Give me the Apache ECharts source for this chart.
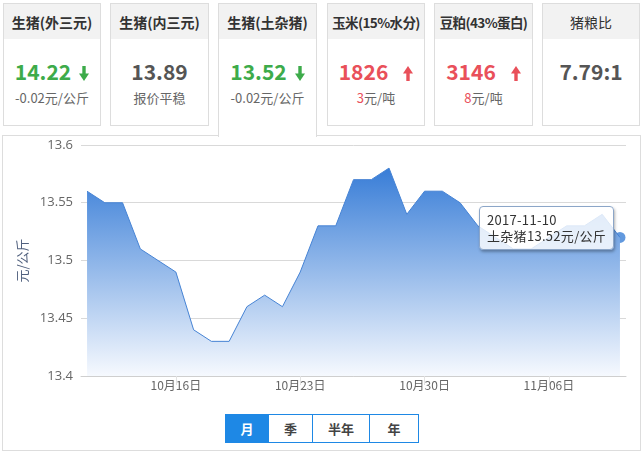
<!DOCTYPE html>
<html><head><meta charset="utf-8">
<script src="https://cdn.jsdelivr.net/npm/echarts@6/dist/echarts.min.js"></script>
<style>
body{margin:0;width:643px;height:454px;position:relative;overflow:hidden;background:#fff;font-family:"Noto Sans CJK SC","Noto Sans",sans-serif;}
.card{position:absolute;top:3px;height:123px;border:1px solid #ddd;box-sizing:border-box;background:#fff;text-align:center;z-index:2;}
.card.active{height:134px;border-bottom:none;}
.card .hd{height:35px;line-height:36px;background:#f2f2f2;font-size:14px;color:#333;font-weight:bold;white-space:nowrap;overflow:visible;}
.card .hd.tight{letter-spacing:-0.6px;font-size:13.5px;}
.card .val{margin-top:19px;font-size:21px;font-weight:bold;line-height:26px;white-space:nowrap;}
.card .sub{margin-top:5px;font-size:13px;line-height:18px;color:#666;white-space:nowrap;}
.green{color:#3dab4a;}
.red{color:#e9505a;}
.gray{color:#555;}
.val svg{vertical-align:-1px;margin-left:8px;}
.panel{position:absolute;left:2px;top:135px;width:639px;height:316px;border:1px solid #ddd;box-sizing:border-box;z-index:1;}
#chart{position:absolute;left:0;top:136px;width:643px;height:270px;z-index:3;}
.btns{position:absolute;left:225px;top:414px;height:29px;display:flex;z-index:3;}
.btn{box-sizing:border-box;height:29px;line-height:27px;border:1px solid #1e88e5;text-align:center;font-size:13px;font-weight:bold;color:#444;margin-left:-1px;background:#fff;}
.btn.on{background:#1e88e5;color:#fff;margin-left:0;}
</style>
</head><body>
<div class="panel"></div>

<div class="card" style="left:3px;width:98px;">
  <div class="hd">生猪(外三元)</div>
  <div class="val green">14.22<svg width="10" height="15" viewBox="0 0 10 15"><rect x="3.3" y="0" width="3.4" height="9" fill="#3dab4a"/><polygon points="0,7.5 10,7.5 5,15" fill="#3dab4a"/></svg></div>
  <div class="sub green">-0.02元/公斤</div>
</div>
<div class="card" style="left:110px;width:99px;">
  <div class="hd">生猪(内三元)</div>
  <div class="val gray">13.89</div>
  <div class="sub">报价平稳</div>
</div>
<div class="card active" style="left:218px;width:99px;">
  <div class="hd">生猪(土杂猪)</div>
  <div class="val green">13.52<svg width="10" height="15" viewBox="0 0 10 15"><rect x="3.3" y="0" width="3.4" height="9" fill="#3dab4a"/><polygon points="0,7.5 10,7.5 5,15" fill="#3dab4a"/></svg></div>
  <div class="sub green">-0.02元/公斤</div>
</div>
<div class="card" style="left:327px;width:98px;">
  <div class="hd tight">玉米(15%水分)</div>
  <div class="val red">1826<svg style="margin-left:15px" width="10" height="15" viewBox="0 0 10 15"><rect x="3.3" y="6" width="3.4" height="9" fill="#e9505a"/><polygon points="0,7.5 10,7.5 5,0" fill="#e9505a"/></svg></div>
  <div class="sub"><span class="red">3</span>元/吨</div>
</div>
<div class="card" style="left:434px;width:99px;">
  <div class="hd tight">豆粕(43%蛋白)</div>
  <div class="val red">3146<svg style="margin-left:15px" width="10" height="15" viewBox="0 0 10 15"><rect x="3.3" y="6" width="3.4" height="9" fill="#e9505a"/><polygon points="0,7.5 10,7.5 5,0" fill="#e9505a"/></svg></div>
  <div class="sub"><span class="red">8</span>元/吨</div>
</div>
<div class="card" style="left:542px;width:98px;">
  <div class="hd" style="font-weight:normal;">猪粮比</div>
  <div class="val gray">7.79:1</div>
  <div class="sub"></div>
</div>

<div id="chart"></div>

<div class="btns">
  <div class="btn on" style="width:44px;">月</div>
  <div class="btn" style="width:45px;">季</div>
  <div class="btn" style="width:58px;">半年</div>
  <div class="btn" style="width:50px;">年</div>
</div>

<script>
const dates = ['2017-10-11','2017-10-12','2017-10-13','2017-10-14','2017-10-15','2017-10-16','2017-10-17',
  '2017-10-18','2017-10-19','2017-10-20','2017-10-21','2017-10-22','2017-10-23','2017-10-24','2017-10-25',
  '2017-10-26','2017-10-27','2017-10-28','2017-10-29','2017-10-30','2017-10-31','2017-11-01','2017-11-02',
  '2017-11-03','2017-11-04','2017-11-05','2017-11-06','2017-11-07','2017-11-08','2017-11-09','2017-11-10'];
const prices = [13.56,13.55,13.55,13.51,13.50,13.49,13.44,13.43,13.43,13.46,13.47,13.46,13.49,13.53,13.53,
  13.57,13.57,13.58,13.54,13.56,13.56,13.55,13.53,13.52,13.51,13.51,13.52,13.53,13.53,13.54,13.52];
const xTickDates = ['2017-10-16','2017-10-23','2017-10-30','2017-11-06'];
const seriesName = '土杂猪';
const unit = '元/公斤';

function ts(s){ const p = s.split('-').map(Number); return Date.UTC(p[0], p[1]-1, p[2]); }
const DAY = 86400000;
const xMin = ts(dates[0]) - DAY * 0.34;
const xMax = ts(dates[dates.length-1]) + DAY * 0.34;
const tickVals = xTickDates.map(ts);
const seriesData = dates.map((d,i)=>[ts(d), prices[i]]);
const last = seriesData[seriesData.length-1];
function pad(n){ return String(n).padStart(2,'0'); }

const chart = echarts.init(document.getElementById('chart'), null, {renderer:'canvas'});
chart.setOption({
  animation:false,
  backgroundColor:'transparent',
  grid:{left:81, right:17, top:9, height:231},
  tooltip:{
    trigger:'item', triggerOn:'none', alwaysShowContent:true, transitionDuration:0,
    position:[479,70],
    backgroundColor:'rgba(255,255,255,0.82)', borderColor:'#8ca6c8', borderWidth:1, borderRadius:4,
    padding:[5,7], textStyle:{color:'#333', fontSize:13, fontFamily:'Noto Sans CJK SC', lineHeight:16},
    extraCssText:'box-shadow:1px 2px 3px rgba(0,0,0,0.3);letter-spacing:0.3px;',
    formatter:function(p){ const d=new Date(p.value[0]);
      const s=d.getUTCFullYear()+'-'+pad(d.getUTCMonth()+1)+'-'+pad(d.getUTCDate());
      return s+'<br/>'+seriesName+p.value[1]+unit; }
  },
  xAxis:{
    type:'value', min:xMin, max:xMax, scale:true,
    axisLine:{lineStyle:{color:'#cfcfcf', width:1}},
    axisTick:{show:true, customValues:tickVals, length:9, inside:false, lineStyle:{color:'#e2e2e2'}},
    axisLabel:{customValues:tickVals, color:'#666', fontSize:12, margin:3, fontFamily:'Noto Sans CJK SC',
      formatter:function(v){ const d=new Date(v); return (d.getUTCMonth()+1)+'月'+pad(d.getUTCDate())+'日'; }},
    splitLine:{show:false}
  },
  yAxis:{
    type:'value', min:13.4, max:13.6, interval:0.05,
    name:'元/公斤', nameLocation:'middle', nameGap:48,
    nameTextStyle:{color:'#50607e', fontSize:13, fontFamily:'Noto Sans CJK SC'},
    axisLine:{show:false}, axisTick:{show:false},
    axisLabel:{color:'#666', fontSize:13, margin:8, fontFamily:'Open Sans'},
    splitLine:{lineStyle:{color:'#d9d9d9'}}
  },
  series:[{
    type:'line', name:seriesName, data:seriesData, showSymbol:false, symbol:'none',
    emphasis:{disabled:true}, tooltip:{show:false},
    lineStyle:{color:'#4683d4', width:1},
    areaStyle:{color:new echarts.graphic.LinearGradient(0,0,0,1,[{offset:0,color:'#387dd7'},{offset:1,color:'#f6f9fe'}]), opacity:1}
  },{
    type:'scatter', name:seriesName, data:[last], symbol:'circle', symbolSize:11,
    itemStyle:{color:'#3b7fd6'}, emphasis:{disabled:true}
  }]
});
chart.dispatchAction({type:'showTip', seriesIndex:1, dataIndex:0});
</script>
</body></html>
